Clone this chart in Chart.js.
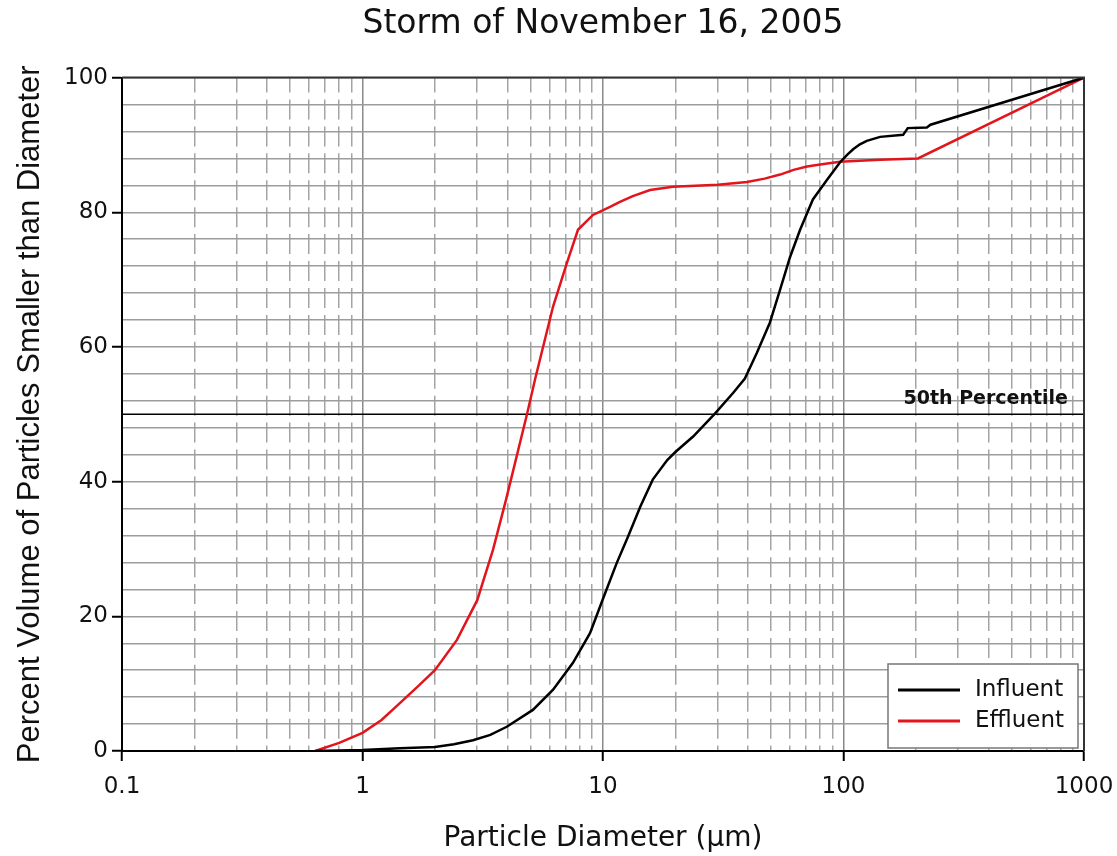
<!DOCTYPE html>
<html>
<head>
<meta charset="utf-8">
<script src="https://cdn.jsdelivr.net/npm/chart.js@4.4.1/dist/chart.umd.min.js"></script>
<style>
  html, body { margin: 0; padding: 0; background: #fff; }
  #wrap { width: 1117px; height: 856px; position: relative; }
</style>
</head>
<body>
<div id="wrap"><canvas id="chart"></canvas></div>
<script>
// values
const influentDiameter = [0.635, 1, 1.43, 2, 2.4, 2.88, 3.4, 3.98, 5.11, 6.2, 7.5, 8.83, 10, 11.4, 12.7, 14.3, 16.1, 18.5, 20, 23.7, 29.2, 34.8, 38.9, 43.6, 49.4, 54.5, 60, 66, 74.6, 85.3, 96.6, 104, 110, 117, 125, 142, 177, 185, 222, 230, 1000];
const influentPercent  = [0, 0.15, 0.4, 0.6, 1.0, 1.6, 2.4, 3.6, 6.1, 9.1, 13.1, 17.5, 22.6, 27.9, 31.8, 36.3, 40.3, 43.2, 44.4, 46.7, 50.1, 53.2, 55.3, 59.1, 63.6, 68.5, 73.4, 77.4, 81.9, 84.8, 87.4, 88.6, 89.4, 90.1, 90.6, 91.2, 91.5, 92.5, 92.6, 93.0, 100];

const effluentDiameter = [0.635, 0.8, 1, 1.2, 1.43, 1.7, 2, 2.47, 3, 3.49, 3.95, 4.83, 5.21, 6.2, 7.08, 7.87, 9.08, 10.7, 11.7, 13.3, 15.7, 19.5, 30, 39.7, 47, 54.5, 62, 70.5, 80, 96.6, 142, 204, 1000];
const effluentPercent  = [0, 1.2, 2.7, 4.6, 7.1, 9.6, 12.0, 16.5, 22.4, 29.9, 37.3, 50, 55.1, 66, 72.5, 77.4, 79.6, 80.8, 81.5, 82.4, 83.3, 83.8, 84.1, 84.5, 85.0, 85.6, 86.3, 86.8, 87.1, 87.5, 87.8, 88.0, 100];

const percentileDiameter = [0.1, 1000];
const percentileValue = [50, 50];

const decadeTicks = [0.1, 1, 10, 100, 1000];
const yTickLabels = [0, 20, 40, 60, 80, 100];

const toPoints = (xs, ys) => xs.map((x, i) => ({ x, y: ys[i] }));
const isDecade = v => decadeTicks.some(d => Math.abs(v / d - 1) < 1e-6);

// 1..9 in every decade, for the log grid
const logGridTicks = [];
decadeTicks.slice(0, -1).forEach(d => {
  for (let k = 1; k < 10; k++) logGridTicks.push(+(d * k).toPrecision(3));
});
logGridTicks.push(1000);

const extras = {
  id: 'extras',
  afterDraw(chart) {
    const { ctx, chartArea: a, scales } = chart;
    ctx.save();
    // frame (top and right)
    ctx.strokeStyle = '#333';
    ctx.lineWidth = 2;
    ctx.beginPath();
    ctx.moveTo(a.left, a.top);
    ctx.lineTo(a.right, a.top);
    ctx.lineTo(a.right, a.bottom);
    ctx.stroke();

    // percentile label
    const y50 = scales.y.getPixelForValue(percentileValue[0]);
    ctx.font = 'bold 19px "DejaVu Sans"';
    ctx.fillStyle = '#111';
    ctx.textAlign = 'right';
    ctx.textBaseline = 'alphabetic';
    ctx.fillText('50th Percentile', a.right - 16, y50 - 10);

    // legend box
    const bx = a.right - 196, by = a.bottom - 87, bw = 190, bh = 84;
    ctx.fillStyle = '#fff';
    ctx.fillRect(bx, by, bw, bh);
    ctx.strokeStyle = '#777';
    ctx.lineWidth = 1.5;
    ctx.strokeRect(bx, by, bw, bh);
    chart.data.datasets.filter(ds => !ds.hideInLegend).forEach((ds, i) => {
      const ry = by + 26 + i * 31;
      ctx.strokeStyle = ds.borderColor;
      ctx.lineWidth = 3;
      ctx.beginPath();
      ctx.moveTo(bx + 10, ry);
      ctx.lineTo(bx + 72, ry);
      ctx.stroke();
      ctx.fillStyle = '#111';
      ctx.textAlign = 'left';
      ctx.textBaseline = 'middle';
      ctx.font = '23px "DejaVu Sans"';
      ctx.fillText(ds.label, bx + 87, ry);
    });
    ctx.restore();
  }
};

new Chart(document.getElementById('chart'), {
  type: 'line',
  data: {
    datasets: [
      {
        label: 'Influent',
        data: toPoints(influentDiameter, influentPercent),
        borderColor: '#000',
        borderWidth: 2.5,
        pointRadius: 0
      },
      {
        label: 'Effluent',
        data: toPoints(effluentDiameter, effluentPercent),
        borderColor: '#e3151c',
        borderWidth: 2.5,
        pointRadius: 0
      },
      {
        label: '50th Percentile',
        hideInLegend: true,
        data: toPoints(percentileDiameter, percentileValue),
        borderColor: '#000',
        borderWidth: 1.5,
        pointRadius: 0
      }
    ]
  },
  options: {
    responsive: true,
    maintainAspectRatio: false,
    animation: false,
    layout: { padding: { left: 0, right: 33, top: 0, bottom: 0 } },
    plugins: {
      legend: { display: false },
      tooltip: { enabled: false },
      title: {
        display: true,
        fullSize: false,
        text: 'Storm of November 16, 2005',
        color: '#111',
        font: { family: '"DejaVu Sans"', size: 33, weight: 'normal' },
        padding: { top: 5, bottom: 33 }
      }
    },
    scales: {
      x: {
        type: 'logarithmic',
        min: 0.1,
        max: 1000,
        afterBuildTicks: s => { s.ticks = logGridTicks.map(value => ({ value })); },
        afterFit: s => { s.height = 105; s.paddingLeft = 0; s.paddingRight = 0; },
        ticks: {
          autoSkip: false,
          maxRotation: 0,
          color: '#111',
          padding: 12,
          font: { family: '"DejaVu Sans"', size: 23 },
          callback: v => isDecade(v) ? String(v) : ''
        },
        grid: {
          color: ctx => ctx.tick && isDecade(ctx.tick.value) ? '#8a8a8a' : '#a4a4a4',
          lineWidth: 1.5,
          tickLength: 10,
          tickWidth: 2,
          tickColor: ctx => ctx.tick && isDecade(ctx.tick.value) ? '#000' : 'rgba(0,0,0,0)'
        },
        border: {
          color: '#000',
          width: 2,
          dash: ctx => ctx.tick && !isDecade(ctx.tick.value) ? [20, 6.92] : [],
          dashOffset: 5
        },
        title: {
          display: true,
          text: 'Particle Diameter (\u03bcm)',
          color: '#111',
          font: { family: '"DejaVu Sans"', size: 28 },
          padding: { top: 4, bottom: 0 }
        }
      },
      y: {
        min: 0,
        max: 100,
        afterFit: s => { s.width = 122; s.paddingTop = 0; s.paddingBottom = 0; },
        ticks: {
          stepSize: 4,
          autoSkip: false,
          color: '#111',
          padding: 4,
          font: { family: '"DejaVu Sans"', size: 23 },
          callback: v => yTickLabels.includes(v) ? String(v) : ''
        },
        grid: {
          color: '#9c9c9c',
          lineWidth: 1.5,
          tickLength: 10,
          tickWidth: 2,
          tickColor: ctx => ctx.tick && yTickLabels.includes(ctx.tick.value) ? '#000' : 'rgba(0,0,0,0)'
        },
        border: { color: '#000', width: 2 },
        title: {
          display: true,
          text: 'Percent Volume of Particles Smaller than Diameter',
          color: '#111',
          font: { family: '"Liberation Sans"', size: 31 },
          padding: { top: 12, bottom: 0 }
        }
      }
    }
  },
  plugins: [extras]
});
</script>
</body>
</html>
